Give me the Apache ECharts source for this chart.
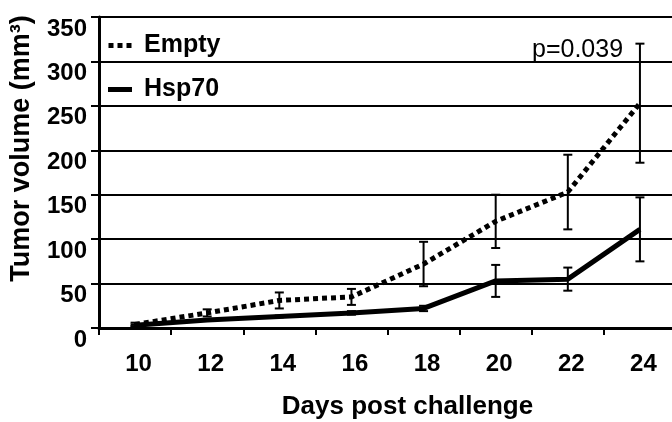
<!DOCTYPE html>
<html>
<head>
<meta charset="utf-8">
<script src="https://cdn.jsdelivr.net/npm/echarts@6/dist/echarts.min.js"></script>
<style>
  html, body { margin: 0; padding: 0; background: #fff; }
  #chart { width: 672px; height: 422px; }
</style>
</head>
<body>
<div id="chart"></div>
<script>
// data
var days = ['10', '12', '14', '16', '18', '20', '22', '24'];
var emptyMean = [4, 17, 31, 35, 72, 120, 153, 253];
var emptyErr = [2, 4, 9, 9, 25, 30, 42, 67];
var hspMean = [3, 9, 13, 17, 22, 53, 55, 111];
var hspErr = [1, 1, 1, 2, 3, 18, 13, 36];
var yTicks = [0, 50, 100, 150, 200, 250, 300, 350];

var FONT = '"Liberation Sans", Arial, sans-serif';

// error bars with caps
function errBars(mean, err) {
  var data = mean.map(function (m, i) { return [i, m - err[i], m + err[i]]; });
  return {
    type: 'custom',
    silent: true,
    z: 5,
    data: data,
    renderItem: function (params, api) {
      var lo = api.coord([api.value(0), api.value(1)]);
      var hi = api.coord([api.value(0), api.value(2)]);
      var w = 4.5;
      var style = { stroke: '#000', lineWidth: 2 };
      return {
        type: 'group',
        children: [
          { type: 'line', shape: { x1: hi[0], y1: hi[1], x2: lo[0], y2: lo[1] }, style: style },
          { type: 'line', shape: { x1: hi[0] - w, y1: hi[1], x2: hi[0] + w, y2: hi[1] }, style: style },
          { type: 'line', shape: { x1: lo[0] - w, y1: lo[1], x2: lo[0] + w, y2: lo[1] }, style: style }
        ]
      };
    }
  };
}

var chart = echarts.init(document.getElementById('chart'));

var option = {
  animation: false,
  backgroundColor: '#fff',
  grid: { left: 99, right: -4, top: 17, bottom: 94, outerBoundsMode: 'none', containLabel: false },
  legend: {
    data: [
      { name: 'Empty', icon: 'path://M0,0h5v5h-5z M9,0h5v5h-5z M18,0h5v5h-5z' },
      { name: 'Hsp70', icon: 'rect' }
    ],
    orient: 'vertical',
    left: 103,
    top: 28,
    itemWidth: 24,
    itemHeight: 5,
    itemGap: 19,
    itemStyle: { color: '#000', borderWidth: 0 },
    lineStyle: { width: 0 },
    textStyle: { fontFamily: FONT, fontWeight: 'bold', fontSize: 25, color: '#000', padding: [0, 0, 0, 7] }
  },
  xAxis: {
    type: 'category',
    data: days,
    boundaryGap: true,
    name: 'Days post challenge',
    nameLocation: 'middle',
    nameGap: 66,
    nameTextStyle: { fontFamily: FONT, fontWeight: 'bold', fontSize: 26, color: '#000', padding: [0, 0, 0, 40] },
    axisLine: { lineStyle: { color: '#000', width: 3 } },
    axisTick: { show: true, alignWithLabel: false, length: 7, lineStyle: { color: '#000', width: 2 } },
    axisLabel: { margin: 24, fontFamily: FONT, fontWeight: 'bold', fontSize: 24, color: '#000', padding: [0, 0, 0, 7] },
    splitLine: { show: false }
  },
  yAxis: {
    type: 'value',
    min: 0,
    max: 350,
    interval: 50,
    name: 'Tumor volume (mm³)',
    nameLocation: 'middle',
    nameRotate: 90,
    nameGap: 64,
    nameTextStyle: { fontFamily: FONT, fontWeight: 'bold', fontSize: 27, color: '#000', padding: [0, 0, 0, 48] },
    axisLine: { show: true, lineStyle: { color: '#000', width: 3 } },
    axisTick: { show: true, length: 8, lineStyle: { color: '#000', width: 2 } },
    axisLabel: {
      margin: 12,
      fontFamily: FONT, fontWeight: 'bold', fontSize: 24, color: '#000',
      verticalAlign: 'top',
      formatter: function (v) { return yTicks.indexOf(v) >= 0 ? String(v) : ''; }
    },
    splitLine: { show: true, lineStyle: { color: '#000', width: 2 } }
  },
  series: [
    {
      name: 'Empty',
      type: 'line',
      data: emptyMean,
      symbol: 'none',
      z: 6,
      lineStyle: { color: '#000', width: 5, type: [5, 4], cap: 'butt' },
      itemStyle: { color: '#000' }
    },
    {
      name: 'Hsp70',
      type: 'line',
      data: hspMean,
      symbol: 'none',
      z: 6,
      lineStyle: { color: '#000', width: 5, type: 'solid' },
      itemStyle: { color: '#000' }
    },
    errBars(emptyMean, emptyErr),
    errBars(hspMean, hspErr)
  ],
  graphic: [
    {
      type: 'text',
      left: 532,
      top: 38,
      style: { text: 'p=0.039', fontFamily: FONT, fontSize: 25, fill: '#000' }
    }
  ]
};

chart.setOption(option);
</script>
</body>
</html>
